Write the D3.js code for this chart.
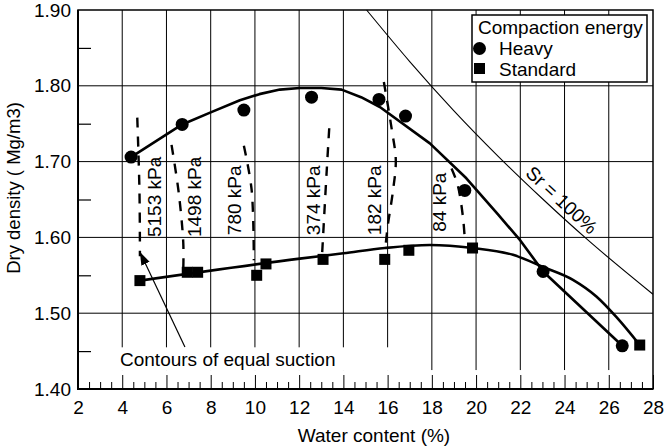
<!DOCTYPE html>
<html><head><meta charset="utf-8">
<script src="https://cdn.jsdelivr.net/npm/d3@7"></script>
<style>
body{margin:0;background:#fff}
svg text{font-family:"Liberation Sans",Arial,Helvetica,sans-serif;fill:#000}
</style>
</head><body>
<svg id="chart" width="664" height="448"></svg>
<script>
// ---------- data ----------
const xTicks = [2,4,6,8,10,12,14,16,18,20,22,24,26,28];
const yTicks = [1.40,1.50,1.60,1.70,1.80,1.90];
const yTickLabels = ["1.40","1.50","1.60","1.70","1.80","1.90"];

const heavyWater   = [4.40, 6.71, 9.50, 12.56, 15.61, 16.81, 19.49, 23.03, 26.61];
const heavyDensity = [1.706, 1.749, 1.768, 1.785, 1.782, 1.760, 1.662, 1.555, 1.457];

const standardWater   = [4.80, 6.94, 7.41, 10.08, 10.50, 13.08, 15.87, 16.96, 19.84, 27.40];
const standardDensity = [1.543, 1.554, 1.554, 1.550, 1.565, 1.571, 1.571, 1.583, 1.586, 1.458];

const heavyCurveWater   = [4.40, 6.71, 8.00, 9.32, 10.20, 11.13, 12.03, 13.00, 13.92, 14.80, 15.65, 17.91, 19.56, 21.00, 22.00, 23.03, 26.61];
const heavyCurveDensity = [1.706, 1.749, 1.765, 1.781, 1.789, 1.795, 1.797, 1.797, 1.795, 1.785, 1.772, 1.724, 1.678, 1.630, 1.596, 1.555, 1.457];

const standardCurveWater   = [4.80, 12.03, 14.00, 15.87, 17.91, 19.86, 21.67, 23.03, 24.38, 25.44, 26.34, 27.40];
const standardCurveDensity = [1.543, 1.572, 1.579, 1.586, 1.590, 1.586, 1.577, 1.561, 1.544, 1.522, 1.495, 1.458];

const srWater   = [15.05, 17, 19, 21, 23, 25, 28];
const srDensity = [1.900, 1.832, 1.767, 1.707, 1.651, 1.598, 1.525];

const suctionLabels = ["5153 kPa","1498 kPa","780 kPa","374 kPa","182 kPa","84 kPa"];
const suctionContours = [
  [[4.68,1.758],[4.78,1.660],[4.80,1.575]],
  [[6.23,1.722],[6.55,1.660],[6.76,1.593],[6.76,1.557]],
  [[9.50,1.721],[9.85,1.663],[9.95,1.570]],
  [[13.36,1.744],[13.24,1.685],[13.04,1.579]],
  [[15.83,1.805],[16.19,1.742],[16.37,1.702],[16.25,1.663],[16.01,1.616],[15.90,1.587]],
  [[18.89,1.691],[19.17,1.669],[19.41,1.626],[19.49,1.597]]
];
// label anchors (water content, density) for the rotated suction labels
const suctionLabelWater   = [5.77, 7.58, 9.37, 12.94, 15.69, 18.63];
const suctionLabelDensity = [1.6005, 1.6005, 1.603, 1.603, 1.603, 1.6075];

// ---------- chart ----------
const FS = 19;
const svg = d3.select("#chart");
const x = d3.scaleLinear().domain([2,28]).range([78,653]);
const y = d3.scaleLinear().domain([1.40,1.90]).range([389,10]);

const g = svg.append("g");

// gridlines
g.selectAll("line.vg").data(xTicks.filter(d=>d>2&&d<28)).join("line")
  .attr("x1",d=>x(d)).attr("x2",d=>x(d)).attr("y1",y(1.90)).attr("y2",y(1.425))
  .attr("stroke","#000").attr("stroke-width",1);
g.selectAll("line.hg").data(yTicks.filter(d=>d>1.40&&d<1.90)).join("line")
  .attr("x1",x(2)).attr("x2",x(28)).attr("y1",d=>y(d)).attr("y2",d=>y(d))
  .attr("stroke","#000").attr("stroke-width",1);

// white box behind the contour note
const noteG = svg.append("g");
noteG.append("rect").attr("x",x(3.2)).attr("y",y(1.455)).attr("width",x(16.5)-x(3.2)).attr("height",y(1.425)-y(1.455)).attr("fill","#fff");
noteG.append("text").attr("x",x(3.90)).attr("y",y(1.4303)).attr("font-size",FS).text("Contours of equal suction");

// x axis
const xMinor = d3.range(2,28.01,0.5).filter(d=>Math.abs(d%2)>0.01);
svg.append("g").attr("transform",`translate(0,${y(1.40)})`)
  .call(d3.axisBottom(x).tickValues(xMinor).tickSize(-7).tickFormat(""))
  .call(a=>a.select(".domain").remove())
  .call(a=>a.selectAll("line").attr("stroke","#000").attr("stroke-width",1));
svg.append("g").attr("transform",`translate(0,${y(1.40)})`)
  .call(d3.axisBottom(x).tickValues(xTicks).tickSize(-14).tickPadding(12).tickFormat(d3.format("d")))
  .call(a=>a.select(".domain").remove())
  .call(a=>a.selectAll("line").attr("stroke","#000").attr("stroke-width",1))
  .call(a=>a.selectAll("text").attr("font-size",FS).attr("font-family",null).attr("fill","#000"));

// y axis
const yMinor = [1.45,1.55,1.65,1.75,1.85];
svg.append("g").attr("transform",`translate(${x(2)},0)`)
  .call(d3.axisLeft(y).tickValues(yMinor).tickSize(-13).tickFormat(""))
  .call(a=>a.select(".domain").remove())
  .call(a=>a.selectAll("line").attr("stroke","#000").attr("stroke-width",1.2));
svg.append("g").attr("transform",`translate(${x(2)},0)`)
  .call(d3.axisLeft(y).tickValues(yTicks).tickSize(0).tickPadding(7).tickFormat((d,i)=>yTickLabels[i]))
  .call(a=>a.select(".domain").remove())
  .call(a=>a.selectAll("text").attr("font-size",FS).attr("font-family",null).attr("fill","#000"));

// frame
svg.append("rect").attr("x",x(2)).attr("y",y(1.90)).attr("width",x(28)-x(2)).attr("height",y(1.40)-y(1.90))
  .attr("fill","none").attr("stroke","#000").attr("stroke-width",1.5);
svg.append("path").attr("d",`M${x(2)},${y(1.90)}V${y(1.40)}H${x(28)}`).attr("fill","none").attr("stroke","#000").attr("stroke-width",2);

// axis titles
svg.append("text").attr("x",374).attr("y",441.5).attr("text-anchor","middle").attr("font-size",FS).text("Water content (%)");
svg.append("text").attr("transform","translate(20,188) rotate(-90)").attr("text-anchor","middle").attr("font-size",18.5).text("Dry density ( Mg/m3)");

// Sr = 100% line
const srLine = d3.line().x(d=>x(d[0])).y(d=>y(d[1])).curve(d3.curveMonotoneX);
svg.append("path").datum(d3.zip(srWater,srDensity)).attr("d",srLine)
  .attr("fill","none").attr("stroke","#000").attr("stroke-width",1.1);
{
  const px = x(23.87), py = y(1.6493);
  svg.append("text").attr("transform",`translate(${px},${py}) rotate(43)`).attr("text-anchor","middle").attr("dy","0.35em").attr("font-size",FS).text("Sr = 100%");
}

// compaction curves
const heavyLine = d3.line().x(d=>x(d[0])).y(d=>y(d[1])).curve(d3.curveLinear);
svg.append("path").datum(d3.zip(heavyCurveWater,heavyCurveDensity)).attr("d",heavyLine)
  .attr("fill","none").attr("stroke","#000").attr("stroke-width",2.6).attr("stroke-linejoin","round");
const stdLine = d3.line().x(d=>x(d[0])).y(d=>y(d[1])).curve(d3.curveMonotoneX);
svg.append("path").datum(d3.zip(standardCurveWater,standardCurveDensity)).attr("d",stdLine)
  .attr("fill","none").attr("stroke","#000").attr("stroke-width",2.6).attr("stroke-linejoin","round");

// suction contours
const contourLine = d3.line().x(d=>x(d[0])).y(d=>y(d[1])).curve(d3.curveCatmullRom.alpha(0.5));
svg.selectAll("path.contour").data(suctionContours).join("path")
  .attr("d",contourLine).attr("fill","none").attr("stroke","#000").attr("stroke-width",2.4)
  .attr("stroke-dasharray","10,9");
svg.selectAll("text.slab").data(suctionLabels).join("text")
  .attr("transform",(d,i)=>`translate(${x(suctionLabelWater[i])},${y(suctionLabelDensity[i])}) rotate(-90)`)
  .attr("font-size",FS).text(d=>d);

// arrow
svg.append("defs").append("marker").attr("id","ah").attr("viewBox","0 0 10 10").attr("refX",10).attr("refY",5)
  .attr("markerWidth",13).attr("markerHeight",13).attr("markerUnits","userSpaceOnUse").attr("orient","auto")
  .append("path").attr("d","M0,1.5L10,5L0,8.5Z").attr("fill","#000");
svg.append("line").attr("x1",x(6.835)).attr("y1",y(1.4554)).attr("x2",x(4.80)).attr("y2",y(1.5807))
  .attr("stroke","#000").attr("stroke-width",1.2).attr("marker-end","url(#ah)");

// points
svg.selectAll("circle.h").data(d3.zip(heavyWater,heavyDensity)).join("circle")
  .attr("cx",d=>x(d[0])).attr("cy",d=>y(d[1])).attr("r",6.5).attr("fill","#000");
const sq = 11;
svg.selectAll("rect.s").data(d3.zip(standardWater,standardDensity)).join("rect")
  .attr("x",d=>x(d[0])-sq/2).attr("y",d=>y(d[1])-sq/2).attr("width",sq).attr("height",sq).attr("fill","#000");

// legend
const lg = svg.append("g");
lg.append("rect").attr("x",472).attr("y",15).attr("width",175).attr("height",67).attr("fill","#fff").attr("stroke","#000").attr("stroke-width",1.5);
lg.append("text").attr("x",478).attr("y",34).attr("font-size",FS).text("Compaction energy");
lg.append("circle").attr("cx",479.5).attr("cy",48.5).attr("r",6.5).attr("fill","#000");
lg.append("text").attr("x",499).attr("y",55).attr("font-size",FS).text("Heavy");
lg.append("rect").attr("x",479.5-sq/2).attr("y",68.5-sq/2).attr("width",sq).attr("height",sq).attr("fill","#000");
lg.append("text").attr("x",499).attr("y",75.5).attr("font-size",FS).text("Standard");
</script>
</body></html>
